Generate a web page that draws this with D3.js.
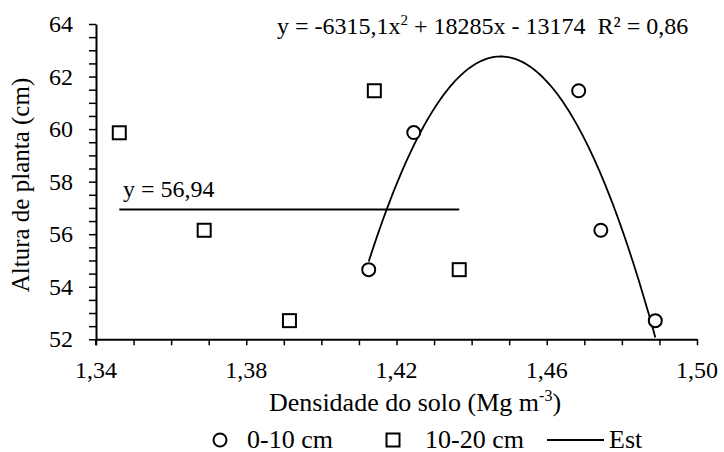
<!DOCTYPE html>
<html>
<head>
<meta charset="utf-8">
<script src="https://cdn.jsdelivr.net/npm/d3@7"></script>
<style>
  body { margin: 0; background: #fff; }
</style>
</head>
<body>
<div id="chart"></div>
<script>
// densidade do solo (Mg m-3) x altura de planta (cm)
const densidade0_10 = [1.4126, 1.4246, 1.4685, 1.4744, 1.4889]
const altura0_10 = [54.65, 59.87, 61.46, 56.15, 52.71]
const densidade10_20 = [1.3462, 1.3688, 1.3915, 1.4141, 1.4367]
const altura10_20 = [59.86, 56.15, 52.71, 61.46, 54.65]
const media10_20 = 56.94
// trend line coefficients (a, b, c) for 0-10 cm, label shows rounded values
const trendCoef = [-6315.1, 18285.4, -13173.6]
const xTicks = [1.34, 1.38, 1.42, 1.46, 1.50]
const yTicks = [52, 54, 56, 58, 60, 62, 64]

const width = 724, height = 452
const margin = {top: 24, right: 27, bottom: 112.7, left: 96}
const serif = 'Liberation Serif'

const svg = d3.select('#chart').append('svg')
  .attr('width', width)
  .attr('height', height)

const x = d3.scaleLinear().domain([1.34, 1.50]).range([margin.left, width - margin.right])
const y = d3.scaleLinear().domain([52, 64]).range([height - margin.bottom, margin.top])

const fmt = d => d.toFixed(2).replace('.', ',')

// minor ticks
const xMinor = d3.range(0, 17).map(i => 1.34 + i * 0.01)
const yMinor = d3.range(0, 25).map(i => 52 + i * 0.5)

const xAxis = svg.append('g')
  .attr('transform', `translate(0,${y(52)})`)
  .call(d3.axisBottom(x).tickValues(xMinor).tickSize(6).tickSizeOuter(0).tickFormat(''))
xAxis.selectAll('text').remove()
xAxis.append('g').selectAll('text')
  .data(xTicks)
  .join('text')
  .attr('x', d => x(d))
  .attr('y', 39)
  .attr('text-anchor', 'middle')
  .attr('font-family', serif)
  .attr('font-size', 24)
  .attr('fill', '#000')
  .text(fmt)

const yAxis = svg.append('g')
  .attr('transform', `translate(${x(1.34)},0)`)
  .call(d3.axisLeft(y).tickValues(yMinor).tickSize(7).tickSizeOuter(0).tickFormat(''))
yAxis.selectAll('text').remove()
yAxis.append('g').selectAll('text')
  .data(yTicks)
  .join('text')
  .attr('x', -23)
  .attr('y', d => y(d))
  .attr('dy', '0.34em')
  .attr('text-anchor', 'end')
  .attr('font-family', serif)
  .attr('font-size', 24)
  .attr('fill', '#000')
  .text(d => d)

svg.selectAll('.domain').attr('stroke-width', 2)
svg.selectAll('.tick line').attr('stroke-width', 1.5)

// y axis runs down through the first x tick
svg.append('line')
  .attr('x1', x(1.34)).attr('x2', x(1.34))
  .attr('y1', y(52)).attr('y2', y(52) + 6)
  .attr('stroke', '#000').attr('stroke-width', 2)

// mean line for 10-20 cm
svg.append('line')
  .attr('x1', x(d3.min(densidade10_20)))
  .attr('x2', x(d3.max(densidade10_20)))
  .attr('y1', y(media10_20))
  .attr('y2', y(media10_20))
  .attr('stroke', '#000')
  .attr('stroke-width', 2)

// quadratic trend for 0-10 cm
const [a, b, c] = trendCoef
const xs = d3.range(d3.min(densidade0_10), d3.max(densidade0_10), 0.0005).concat([d3.max(densidade0_10)])
const curve = xs.map(v => [v, Math.max(52, a * v * v + b * v + c)])
svg.append('path')
  .datum(curve)
  .attr('fill', 'none')
  .attr('stroke', '#000')
  .attr('stroke-width', 1.8)
  .attr('d', d3.line().x(d => x(d[0])).y(d => y(d[1])))

// points
svg.append('g').selectAll('circle')
  .data(densidade0_10.map((d, i) => [d, altura0_10[i]]))
  .join('circle')
  .attr('cx', d => x(d[0]))
  .attr('cy', d => y(d[1]))
  .attr('r', 6.5)
  .attr('fill', '#fff')
  .attr('stroke', '#000')
  .attr('stroke-width', 2)

svg.append('g').selectAll('rect')
  .data(densidade10_20.map((d, i) => [d, altura10_20[i]]))
  .join('rect')
  .attr('x', d => x(d[0]) - 6.5)
  .attr('y', d => y(d[1]) - 6.5)
  .attr('width', 13)
  .attr('height', 13)
  .attr('fill', '#fff')
  .attr('stroke', '#000')
  .attr('stroke-width', 2)

// equations
const eq = svg.append('text')
  .attr('x', 277)
  .attr('y', 34)
  .attr('font-family', serif)
  .attr('font-size', 24)
eq.append('tspan').attr('font-family', serif).text('y = -6315,1x')
eq.append('tspan').attr('font-family', serif).attr('font-size', 15).attr('dy', -9).text('2')
eq.append('tspan').attr('font-family', serif).attr('dy', 9).text(' + 18285x - 13174\u00a0\u00a0R\u00b2 = 0,86')

svg.append('text')
  .attr('x', 123)
  .attr('y', 197)
  .attr('font-family', serif)
  .attr('font-size', 24)
  .text('y = 56,94')

// axis titles
const xt = svg.append('text')
  .attr('x', 415)
  .attr('y', 411)
  .attr('text-anchor', 'middle')
  .attr('font-family', serif)
  .attr('font-size', 26)
xt.append('tspan').attr('font-family', serif).text('Densidade do solo (Mg m')
xt.append('tspan').attr('font-family', serif).attr('font-size', 16).attr('dy', -10).text('-3')
xt.append('tspan').attr('font-family', serif).attr('dy', 10).text(')')

svg.append('text')
  .attr('transform', `translate(29,185) rotate(-90)`)
  .attr('text-anchor', 'middle')
  .attr('font-family', serif)
  .attr('font-size', 25)
  .text('Altura de planta (cm)')

// legend
const legY = 440
const leg = svg.append('g')
leg.append('circle')
  .attr('cx', 220).attr('cy', legY).attr('r', 6.5)
  .attr('fill', '#fff').attr('stroke', '#000').attr('stroke-width', 2)
leg.append('text').attr('x', 247).attr('y', legY + 7.5).attr('font-family', serif).attr('font-size', 26).text('0-10 cm')
leg.append('rect')
  .attr('x', 393 - 6.5).attr('y', legY - 6.5).attr('width', 13).attr('height', 13)
  .attr('fill', '#fff').attr('stroke', '#000').attr('stroke-width', 2)
leg.append('text').attr('x', 425).attr('y', legY + 7.5).attr('font-family', serif).attr('font-size', 26).text('10-20 cm')
leg.append('line')
  .attr('x1', 547).attr('x2', 604).attr('y1', legY).attr('y2', legY)
  .attr('stroke', '#000').attr('stroke-width', 1.8)
leg.append('text').attr('x', 609).attr('y', legY + 7.5).attr('font-family', serif).attr('font-size', 26).text('Est')
</script>
</body>
</html>
